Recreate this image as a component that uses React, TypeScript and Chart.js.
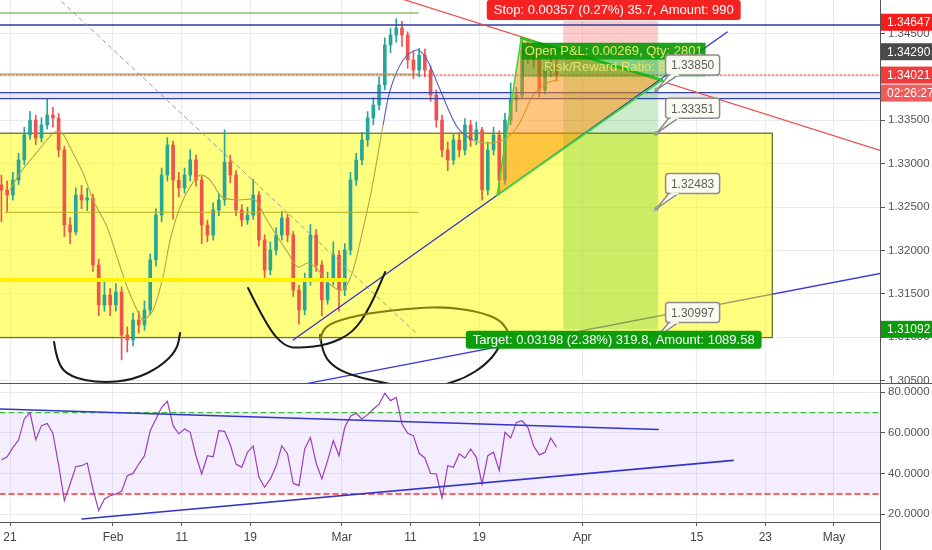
import React, { useEffect, useRef } from "react";
import { Chart, registerables } from "chart.js";

Chart.register(...registerables);

const FONT = "'Liberation Sans', Arial, Helvetica, sans-serif";

// ---- time axis (trading-day index, 0 = Jan 21) ----
const dayTicks = [0, 9, 15, 21, 29, 35, 41, 50, 60, 66, 72];
const dayLabels = ["21", "Feb", "11", "19", "Mar", "11", "19", "Apr", "15", "23", "May"];
const priceTicks = [1.305, 1.31, 1.315, 1.32, 1.325, 1.33, 1.335, 1.34, 1.345];
const rsiTicks = [20, 40, 60, 80];

// ---- candles (two per trading day) ----
const firstCandleDay = -0.75;
const candleStep = 0.5;
const firstOpen = 1.32755;
const closes = [
  1.32697, 1.32639, 1.32812, 1.33043, 1.33331, 1.33503, 1.33296, 1.33446, 1.33561, 1.33527,
  1.33158, 1.32294, 1.32213, 1.32639, 1.32582, 1.32605, 1.31833, 1.31372, 1.31487, 1.31372,
  1.31522, 1.31026, 1.30969, 1.31199, 1.31142, 1.31315, 1.31891, 1.32409, 1.3287, 1.33215,
  1.32812, 1.3272, 1.3287, 1.33043, 1.32812, 1.32294, 1.32179, 1.32467, 1.32582, 1.3302,
  1.3287, 1.32467, 1.32351, 1.32409, 1.32639, 1.32121, 1.31775, 1.32006, 1.32179, 1.32374,
  1.32179, 1.31545, 1.31315, 1.3166, 1.32179, 1.31833, 1.3143, 1.3166, 1.31948, 1.31545,
  1.32006, 1.32812, 1.33043, 1.33273, 1.33527, 1.33676, 1.33907, 1.34368, 1.34483, 1.34563,
  1.34483, 1.34195, 1.34079, 1.34252, 1.34079, 1.33791, 1.33503, 1.33158, 1.33043, 1.33273,
  1.33158, 1.33446, 1.33273, 1.33388, 1.32697, 1.33158, 1.33331, 1.32812, 1.33503, 1.33734,
  1.33791, 1.3431, 1.34252, 1.34195, 1.33849, 1.34079, 1.34137, 1.34021,
];
const highs = [
  1.3287, 1.328, 1.329, 1.3312, 1.3342, 1.336, 1.3356, 1.3353, 1.3375, 1.3365,
  1.3358, 1.332, 1.3238, 1.3272, 1.3275, 1.3272, 1.3265, 1.319, 1.3165, 1.3156,
  1.3162, 1.3158, 1.3112, 1.3128, 1.313, 1.3142, 1.3196, 1.3248, 1.3295, 1.333,
  1.3326, 1.329, 1.3295, 1.3316, 1.331, 1.3286, 1.3235, 1.3255, 1.3266, 1.3339,
  1.331, 1.3292, 1.3253, 1.325, 1.3282, 1.3268, 1.3218, 1.321, 1.3226, 1.3245,
  1.3242, 1.3222, 1.316, 1.3174, 1.323, 1.3224, 1.3188, 1.3175, 1.321, 1.32,
  1.3208, 1.329, 1.3312, 1.3336, 1.336, 1.3376, 1.34, 1.3445, 1.3456, 1.3467,
  1.3464, 1.3452, 1.343, 1.3433, 1.3432, 1.3413, 1.3385, 1.3356, 1.3325, 1.3335,
  1.3336, 1.3352, 1.335, 1.3348, 1.3342, 1.3325, 1.3342, 1.3338, 1.3358, 1.3393,
  1.3388, 1.3444, 1.3442, 1.3433, 1.3425, 1.3416, 1.3428, 1.342,
];
const lows = [
  1.3233, 1.3245, 1.3258, 1.3276, 1.3299, 1.3328, 1.3322, 1.3325, 1.334, 1.3342,
  1.3308, 1.3216, 1.3208, 1.3218, 1.3248, 1.3246, 1.3176, 1.3125, 1.313, 1.3125,
  1.313, 1.3074, 1.3083, 1.309, 1.3105, 1.3108, 1.3126, 1.3182, 1.3233, 1.328,
  1.3236, 1.3262, 1.3266, 1.328, 1.3274, 1.3208, 1.321, 1.3212, 1.324, 1.3252,
  1.3278, 1.324, 1.3228, 1.323, 1.3236, 1.3205, 1.3166, 1.3172, 1.3195, 1.3212,
  1.321, 1.3147, 1.3115, 1.3126, 1.316, 1.3176, 1.3125, 1.3138, 1.316, 1.313,
  1.3148, 1.3195, 1.3275, 1.3299, 1.332, 1.3345, 1.3362, 1.3385, 1.3428, 1.344,
  1.3435, 1.341, 1.3398, 1.34, 1.34, 1.3372, 1.3342, 1.3308, 1.3292, 1.3299,
  1.3308, 1.331, 1.332, 1.3322, 1.3258, 1.3264, 1.331, 1.3264, 1.3276, 1.3345,
  1.336, 1.3375, 1.3415, 1.341, 1.3377, 1.338, 1.34, 1.3395,
];
const rsiValues = [
  46.7, 48.3, 52.8, 56.5, 66.9, 70.0, 56.7, 63.6, 64.7, 59.8,
  44.2, 26.7, 34.9, 43.4, 43.9, 45.2, 32.4, 21.8, 27.5, 29.1,
  30.0, 31.3, 39.0, 40.1, 44.7, 48.8, 61.1, 66.9, 72.6, 75.6,
  63.6, 59.5, 61.9, 60.3, 48.8, 39.8, 48.8, 48.3, 61.1, 60.8,
  54.2, 44.7, 43.1, 50.5, 53.6, 38.2, 33.3, 37.4, 43.7, 53.7,
  49.7, 35.2, 34.1, 52.1, 57.8, 45.2, 37.4, 46.4, 56.2, 48.8,
  62.8, 68.2, 69.7, 66.9, 69.0, 71.8, 74.2, 79.5, 75.9, 77.5,
  64.4, 59.8, 58.7, 50.0, 47.7, 40.1, 39.8, 28.0, 43.9, 43.1,
  49.7, 47.7, 52.1, 48.0, 34.9, 48.8, 50.5, 41.5, 60.3, 57.5,
  65.2, 66.0, 62.8, 53.7, 49.2, 50.5, 57.5, 53.0,
];

// ---- moving average ----
const maDays = [
  0, 0.87, 2.01, 3.23, 3.93, 4.55, 5.24, 6.38, 7.26, 8.48, 9.35, 10.23, 11.1, 11.63, 12.5, 13.37,
  13.99, 14.86, 15.73, 16.61, 17.48, 18.53, 19.93, 21.42, 22.29, 23.16, 24.3, 25.17, 26.05, 26.92,
  27.8, 29.02, 29.9, 30.77, 31.64, 32.6, 33.22, 34.35, 35.58, 36.45, 37.59, 39.07, 40.47, 41.7,
  43.09, 44.32, 45.72, 46.94, 47.81,
];
const maValues = [
  1.32697, 1.32893, 1.33077, 1.33273, 1.33365, 1.33354, 1.33192, 1.32893, 1.32582, 1.32271,
  1.31925, 1.3158, 1.31315, 1.31199, 1.31315, 1.31695, 1.32121, 1.32501, 1.32731, 1.32869,
  1.32812, 1.32616, 1.32582, 1.32582, 1.32386, 1.32202, 1.31971, 1.3181, 1.31856, 1.31776,
  1.31626, 1.31545, 1.31741, 1.32202, 1.32731, 1.33446, 1.33849, 1.34195, 1.3431, 1.34195,
  1.33849, 1.33423, 1.33273, 1.33238, 1.33273, 1.33423, 1.33791, 1.3393, 1.33964,
];
const maBlueSpan = [31.9, 39.8];

// ---- position tool / levels ----
const stopPrice = 1.34647;
const entryPrice = 1.3429;
const lastPrice = 1.34021;
const targetPrice = 1.31092;
const countdownText = "02:26:27";
const stopText = "Stop: 0.00357 (0.27%) 35.7, Amount: 990";
const targetText = "Target: 0.03198 (2.38%) 319.8, Amount: 1089.58";
const pnlText = "Open P&L: 0.00269, Qty: 2801";
const rrText = "Risk/Reward Ratio: 8.96";
const positionDays = [48.34, 56.64];
const calloutDay = 56.5;
const calloutPrices = [1.3385, 1.33351, 1.32483, 1.30997];
const boxDays = [-1, 66.61];
const boxPrices = [1.33351, 1.30997];
const blueLevel = 1.34598;
const bandLevels = [1.33818, 1.33749];
const greenLevels = [1.34736, 1.34033];
const greenLevelEnd = 35.66;
const oliveLevel = 1.3244;
const oliveSpan = [-0.44, 35.66];
const yellowLevel = 1.3166;
const yellowEnd = 29.28;

// ---- trend lines and drawings (day, price) ----
const redTrend = [[33.5, 1.34929], [76.1, 1.33149]];
const blueTrend = [[24.74, 1.30969], [62.67, 1.34517]];
const blueLowTrend = [[24, 1.30418], [76.1, 1.31737]];
const grayDashTrend = [[3.5, 1.34993], [35.66, 1.31027]];
const triangle = [[42.57, 1.32639], [44.67, 1.34448], [56.99, 1.33964]];
const curveA = [[3.85, 1.30946], [4.11, 1.30704], [5.24, 1.30543], [7.87, 1.30474], [10.75, 1.30508], [13.11, 1.30658], [14.6, 1.30854], [14.86, 1.3105]];
const curveB = [[20.8, 1.31568], [22.47, 1.31119], [24.04, 1.30889], [25.35, 1.30877], [27.71, 1.30911], [29.98, 1.3105], [31.47, 1.31349], [32.78, 1.31752]];
const curveC = [[27.1, 1.30969], [27.27, 1.31084], [28.23, 1.31176], [31.21, 1.3128], [35.58, 1.31338], [38.2, 1.31349], [41.08, 1.31291], [42.83, 1.31199], [43.44, 1.31084]];
const curveD = [[27.1, 1.31027], [27.27, 1.30831], [28.15, 1.3067], [29.72, 1.30566], [31.91, 1.30497], [34.09, 1.30440]];
const curveE = [[43.27, 1.31027], [42.66, 1.30854], [41.52, 1.30681], [39.77, 1.30531], [37.59, 1.3044]];
const rsiUpperTrend = [[-0.874, 71.8], [56.64, 61.7]];
const rsiLowerTrend = [[6.29, 17.7], [63.2, 46.5]];

const X_MIN = -0.8738;
const X_MAX = 76.02;
const P_MIN = 1.304735;
const P_MAX = 1.348859;
const R_MIN = 16.2;
const R_MAX = 84.08;

const UP = "#26a69a";
const DOWN = "#ef5350";
const GRID = "#e8ebf0";
const AXIS = "#555555";

function mapper(chart: any) {
  const xs = chart.scales.x;
  const ys = chart.scales.y;
  return (p: number[]) => [xs.getPixelForValue(p[0]), ys.getPixelForValue(p[1])];
}

function clipArea(ctx: any, a: any) {
  ctx.beginPath();
  ctx.rect(a.left, a.top, a.right - a.left, a.bottom - a.top);
  ctx.clip();
}

function strokePts(ctx: any, pts: number[][], color: string, width: number, dash: number[] = [], smooth = false) {
  ctx.save();
  ctx.strokeStyle = color;
  ctx.lineWidth = width;
  ctx.setLineDash(dash);
  ctx.lineJoin = "round";
  ctx.lineCap = "round";
  ctx.beginPath();
  ctx.moveTo(pts[0][0], pts[0][1]);
  if (smooth && pts.length > 2) {
    for (let i = 1; i < pts.length - 1; i++) {
      const mx = (pts[i][0] + pts[i + 1][0]) / 2;
      const my = (pts[i][1] + pts[i + 1][1]) / 2;
      ctx.quadraticCurveTo(pts[i][0], pts[i][1], mx, my);
    }
    const l = pts[pts.length - 1];
    ctx.lineTo(l[0], l[1]);
  } else {
    for (let i = 1; i < pts.length; i++) ctx.lineTo(pts[i][0], pts[i][1]);
  }
  ctx.stroke();
  ctx.restore();
}

function roundRect(ctx: any, x: number, y: number, w: number, h: number, r: number) {
  ctx.beginPath();
  ctx.moveTo(x + r, y);
  ctx.arcTo(x + w, y, x + w, y + h, r);
  ctx.arcTo(x + w, y + h, x, y + h, r);
  ctx.arcTo(x, y + h, x, y, r);
  ctx.arcTo(x, y, x + w, y, r);
  ctx.closePath();
}

const priceDrawings = {
  id: "priceDrawings",
  beforeDatasetsDraw(chart: any) {
    const { ctx, chartArea: a } = chart;
    const P = mapper(chart);
    ctx.save();
    clipArea(ctx, a);
    // lower blue trend (under the box)
    strokePts(ctx, blueLowTrend.map(P), "#3b3bd8", 1.3);
    // yellow box
    const b0 = P([boxDays[0], boxPrices[0]]);
    const b1 = P([boxDays[1], boxPrices[1]]);
    ctx.fillStyle = "rgba(255,255,0,0.5)";
    ctx.fillRect(b0[0], b0[1], b1[0] - b0[0], b1[1] - b0[1]);
    ctx.strokeStyle = "#6f6f30";
    ctx.lineWidth = 1.3;
    ctx.strokeRect(b0[0], b0[1], b1[0] - b0[0], b1[1] - b0[1]);
    // grey band between the two blue levels
    const g0 = P([X_MIN, bandLevels[0]]);
    const g1 = P([X_MAX, bandLevels[1]]);
    ctx.fillStyle = "rgba(185,188,210,0.35)";
    ctx.fillRect(g0[0], g0[1], g1[0] - g0[0], g1[1] - g0[1]);
    // position zones
    const s0 = P([positionDays[0], stopPrice]);
    const e1 = P([positionDays[1], entryPrice]);
    const t1 = P([positionDays[1], targetPrice]);
    ctx.fillStyle = "rgba(255,0,0,0.2)";
    ctx.fillRect(s0[0], s0[1], e1[0] - s0[0], e1[1] - s0[1]);
    ctx.fillStyle = "rgba(0,160,0,0.2)";
    ctx.fillRect(s0[0], e1[1], e1[0] - s0[0], t1[1] - e1[1]);
    ctx.restore();
  },
  afterDatasetsDraw(chart: any) {
    const { ctx, chartArea: a } = chart;
    const P = mapper(chart);
    ctx.save();
    clipArea(ctx, a);
    const h = (price: number, d0: number, d1: number, color: string, w: number, dash: number[] = []) =>
      strokePts(ctx, [P([d0, price]), P([d1, price])], color, w, dash);
    h(greenLevels[0], X_MIN, greenLevelEnd, "#8cc46c", 1.5);
    h(blueLevel, X_MIN, X_MAX, "#2c3c9c", 1.6);
    h(greenLevels[1], X_MIN, greenLevelEnd, "#8fb45a", 1.3);
    h(lastPrice, X_MIN, X_MAX, "#ef4444", 1, [2, 2]);
    h(bandLevels[0], X_MIN, X_MAX, "#3343a3", 1.2);
    h(bandLevels[1], X_MIN, X_MAX, "#3343a3", 1.2);
    h(oliveLevel, oliveSpan[0], oliveSpan[1], "#b8ab22", 1.1);
    h(yellowLevel, X_MIN, yellowEnd, "#fff200", 4);
    strokePts(ctx, grayDashTrend.map(P), "#9a9a9a", 1, [4, 4]);
    strokePts(ctx, redTrend.map(P), "#f04848", 1.2);

    // orange triangle
    const tri = triangle.map(P);
    ctx.beginPath();
    ctx.moveTo(tri[0][0], tri[0][1]);
    ctx.lineTo(tri[1][0], tri[1][1]);
    ctx.lineTo(tri[2][0], tri[2][1]);
    ctx.closePath();
    ctx.fillStyle = "rgba(255,140,0,0.5)";
    ctx.fill();
    strokePts(ctx, blueTrend.map(P), "#3030d0", 1.3);
    strokePts(ctx, [tri[0], tri[1]], "#3ad63a", 1.5);
    strokePts(ctx, [tri[0], tri[2]], "#3ad63a", 1.8);
    strokePts(ctx, [tri[1], tri[2]], "#22cc22", 2.6);

    // hand drawn curves
    strokePts(ctx, curveA.map(P), "#1a1a1a", 2, [], true);
    strokePts(ctx, curveB.map(P), "#1a1a1a", 2, [], true);
    strokePts(ctx, curveD.map(P), "#1a1a1a", 2, [], true);
    strokePts(ctx, curveE.map(P), "#1a1a1a", 2, [], true);
    strokePts(ctx, curveC.map(P), "#857c12", 2.2, [], true);
    ctx.restore();

    // labels (not clipped)
    ctx.save();
    const cx = P([(positionDays[0] + positionDays[1]) / 2, entryPrice])[0] + 3;
    const yEntry = P([0, entryPrice])[1];
    ctx.font = `13px ${FONT}`;
    ctx.textAlign = "center";
    ctx.textBaseline = "middle";
    // P&L box
    const pw = ctx.measureText(pnlText).width + 6;
    ctx.fillStyle = "rgba(0,150,0,0.88)";
    ctx.fillRect(cx - pw / 2, yEntry - 9, pw, 17);
    ctx.fillStyle = "rgba(0,150,0,0.35)";
    ctx.fillRect(cx - pw / 2, yEntry + 8, pw, 17);
    ctx.fillStyle = "#e8e46a";
    ctx.fillText(pnlText, cx, yEntry);
    ctx.fillText(rrText, cx, yEntry + 16);

    // callouts
    ctx.font = `12px ${FONT}`;
    for (const price of calloutPrices) {
      const [px, py] = P([calloutDay, price]);
      const bx = px + 9;
      const by = py - 35;
      const bw = 54;
      const bh = 20;
      ctx.beginPath();
      ctx.moveTo(px, py);
      ctx.lineTo(bx + 4, by + bh - 1);
      ctx.lineTo(bx + 14, by + bh - 1);
      ctx.closePath();
      ctx.fillStyle = "#fbfbf2";
      ctx.fill();
      ctx.strokeStyle = "#8c8c8c";
      ctx.lineWidth = 1.5;
      ctx.stroke();
      roundRect(ctx, bx, by, bw, bh, 3);
      ctx.fillStyle = "rgba(252,252,244,0.95)";
      ctx.fill();
      ctx.stroke();
      ctx.beginPath();
      ctx.moveTo(bx + 5, by + bh);
      ctx.lineTo(bx + 13, by + bh);
      ctx.strokeStyle = "#fbfbf2";
      ctx.lineWidth = 2;
      ctx.stroke();
      ctx.beginPath();
      ctx.arc(px, py, 2.3, 0, Math.PI * 2);
      ctx.fillStyle = "#9a9a9a";
      ctx.fill();
      ctx.fillStyle = "#606060";
      ctx.fillText(price.toFixed(5), bx + bw / 2, by + bh / 2 + 1);
    }

    // stop / target labels
    ctx.font = `13px ${FONT}`;
    const sw = ctx.measureText(stopText).width + 14;
    const sy = Math.max(0, P([0, stopPrice])[1] - 21);
    roundRect(ctx, cx - sw / 2, sy, sw, 20, 3);
    ctx.fillStyle = "#f52222";
    ctx.fill();
    ctx.fillStyle = "#ffffff";
    ctx.fillText(stopText, cx, sy + 10.5);

    const tw = ctx.measureText(targetText).width + 14;
    const ty = P([0, targetPrice])[1] + 1.5;
    roundRect(ctx, cx - tw / 2, ty, tw, 18, 3);
    ctx.fillStyle = "#0c9c0c";
    ctx.fill();
    ctx.fillStyle = "#ffffff";
    ctx.fillText(targetText, cx, ty + 9.5);
    ctx.restore();
  },
  afterDraw(chart: any) {
    const { ctx, chartArea: a, width } = chart;
    const P = mapper(chart);
    ctx.save();
    ctx.strokeStyle = AXIS;
    ctx.lineWidth = 1;
    ctx.beginPath();
    ctx.moveTo(0, a.bottom + 0.5);
    ctx.lineTo(width, a.bottom + 0.5);
    ctx.stroke();
    ctx.font = `12px ${FONT}`;
    ctx.textAlign = "left";
    ctx.textBaseline = "middle";
    const box = (yc: number, bg: string, text: string) => {
      ctx.fillStyle = bg;
      ctx.fillRect(a.right + 1, yc - 8.5, width - a.right - 1, 17);
      ctx.fillStyle = "#ffffff";
      ctx.fillText(text, a.right + 7, yc + 0.5);
    };
    box(P([0, stopPrice])[1] + 1.5, "#f51c1c", stopPrice.toFixed(5));
    box(P([0, entryPrice])[1], "#4a4a4a", entryPrice.toFixed(5));
    const yl = P([0, lastPrice])[1];
    box(yl, "#ef3d3d", lastPrice.toFixed(5));
    box(yl + 18, "#f05c5c", countdownText);
    box(P([0, targetPrice])[1], "#0a9a0a", targetPrice.toFixed(5));
    ctx.restore();
  },
};

const rsiDrawings = {
  id: "rsiDrawings",
  beforeDatasetsDraw(chart: any) {
    const { ctx, chartArea: a } = chart;
    const P = mapper(chart);
    ctx.save();
    clipArea(ctx, a);
    const top = P([X_MIN, 70]);
    const bot = P([X_MAX, 30]);
    ctx.fillStyle = "rgba(150,80,240,0.1)";
    ctx.fillRect(top[0], top[1], bot[0] - top[0], bot[1] - top[1]);
    strokePts(ctx, [P([X_MIN, 70]), P([X_MAX, 70])], "#3cbf3c", 1.4, [5, 4]);
    strokePts(ctx, [P([X_MIN, 30]), P([X_MAX, 30])], "#ff3030", 1.6, [5, 4]);
    ctx.restore();
  },
  afterDatasetsDraw(chart: any) {
    const { ctx, chartArea: a } = chart;
    const P = mapper(chart);
    ctx.save();
    clipArea(ctx, a);
    strokePts(ctx, rsiUpperTrend.map(P), "#3434c8", 1.6);
    strokePts(ctx, rsiLowerTrend.map(P), "#3434c8", 1.6);
    ctx.restore();
  },
  afterDraw(chart: any) {
    const { ctx, chartArea: a, height } = chart;
    ctx.save();
    ctx.strokeStyle = AXIS;
    ctx.lineWidth = 1;
    ctx.beginPath();
    ctx.moveTo(a.right + 0.5, a.bottom);
    ctx.lineTo(a.right + 0.5, height);
    ctx.stroke();
    ctx.restore();
  },
};

function dateXScale(showLabels: boolean) {
  return {
    type: "linear",
    min: X_MIN,
    max: X_MAX,
    offset: false,
    afterBuildTicks: (s: any) => {
      s.ticks = dayTicks.map((v) => ({ value: v }));
    },
    afterFit: (s: any) => {
      s.height = showLabels ? 28 : 0;
      s.paddingLeft = 0;
      s.paddingRight = 0;
    },
    ticks: {
      display: showLabels,
      autoSkip: false,
      maxRotation: 0,
      color: "#444",
      padding: 4,
      font: { size: 12, family: FONT },
      callback: (_v: any, i: number) => dayLabels[i],
    },
    grid: { color: GRID, offset: false, drawTicks: showLabels, tickLength: 4, tickColor: AXIS },
    border: { display: showLabels, color: AXIS },
  };
}

export default function App() {
  const topRef = useRef<HTMLCanvasElement>(null);
  const botRef = useRef<HTMLCanvasElement>(null);

  useEffect(() => {
    const opens = closes.map((_, i) => (i === 0 ? firstOpen : closes[i - 1]));
    const days = closes.map((_, i) => firstCandleDay + candleStep * i);
    const colors = closes.map((c, i) => (c >= opens[i] ? UP : DOWN));

    const price = new Chart(topRef.current as HTMLCanvasElement, {
      type: "bar",
      data: {
        datasets: [
          {
            type: "line",
            data: maDays.map((d, i) => ({ x: d, y: maValues[i] })),
            borderColor: "#b3a64a",
            borderWidth: 1.1,
            pointRadius: 0,
            tension: 0.3,
            segment: {
              borderColor: (c: any) =>
                c.p0.parsed.x >= maBlueSpan[0] && c.p0.parsed.x < maBlueSpan[1] ? "#5a5ac8" : "#b3a64a",
            },
          } as any,
          {
            type: "bar",
            data: days.map((d, i) => ({ x: d, y: [opens[i], closes[i]] })),
            backgroundColor: colors,
            barThickness: 3,
            minBarLength: 1,
            grouped: false,
          } as any,
          {
            type: "bar",
            data: days.map((d, i) => ({ x: d, y: [lows[i], highs[i]] })),
            backgroundColor: colors,
            barThickness: 1,
            grouped: false,
          } as any,
        ],
      },
      options: {
        responsive: false,
        animation: false,
        devicePixelRatio: 1,
        events: [],
        layout: { padding: { left: 0, right: 0, top: 0, bottom: 1 } },
        plugins: { legend: { display: false }, tooltip: { enabled: false } },
        scales: {
          x: dateXScale(false) as any,
          y: {
            position: "right",
            min: P_MIN,
            max: P_MAX,
            afterBuildTicks: (s: any) => {
              s.ticks = priceTicks.map((v) => ({ value: v }));
            },
            afterFit: (s: any) => {
              s.width = 52;
              s.paddingTop = 0;
              s.paddingBottom = 0;
            },
            ticks: {
              color: "#555",
              padding: 3,
              font: { size: 11.5, family: FONT },
              callback: (v: any) => Number(v).toFixed(5),
            },
            grid: { color: GRID, tickColor: AXIS, tickLength: 5 },
            border: { color: AXIS },
          } as any,
        },
      },
      plugins: [priceDrawings],
    });

    const rsi = new Chart(botRef.current as HTMLCanvasElement, {
      type: "line",
      data: {
        datasets: [
          {
            data: days.map((d, i) => ({ x: d, y: rsiValues[i] })),
            borderColor: "#9b3fbf",
            borderWidth: 1.2,
            pointRadius: 0,
            tension: 0,
          },
        ],
      },
      options: {
        responsive: false,
        animation: false,
        devicePixelRatio: 1,
        events: [],
        layout: { padding: 0 },
        plugins: { legend: { display: false }, tooltip: { enabled: false } },
        scales: {
          x: dateXScale(true) as any,
          y: {
            position: "right",
            min: R_MIN,
            max: R_MAX,
            afterBuildTicks: (s: any) => {
              s.ticks = rsiTicks.map((v) => ({ value: v }));
            },
            afterFit: (s: any) => {
              s.width = 52;
              s.paddingTop = 0;
              s.paddingBottom = 0;
            },
            ticks: {
              color: "#555",
              padding: 3,
              font: { size: 11.5, family: FONT },
              callback: (v: any) => Number(v).toFixed(4),
            },
            grid: { color: GRID, tickColor: AXIS, tickLength: 5 },
            border: { color: AXIS },
          } as any,
        },
      },
      plugins: [rsiDrawings],
    });

    return () => {
      price.destroy();
      rsi.destroy();
    };
  }, []);

  return (
    <div style={{ position: "absolute", left: 0, top: 0, width: 932, height: 550, background: "#ffffff" }}>
      <canvas ref={topRef} width={932} height={384} style={{ position: "absolute", left: 0, top: 0 }} />
      <canvas ref={botRef} width={932} height={166} style={{ position: "absolute", left: 0, top: 384 }} />
    </div>
  );
}
